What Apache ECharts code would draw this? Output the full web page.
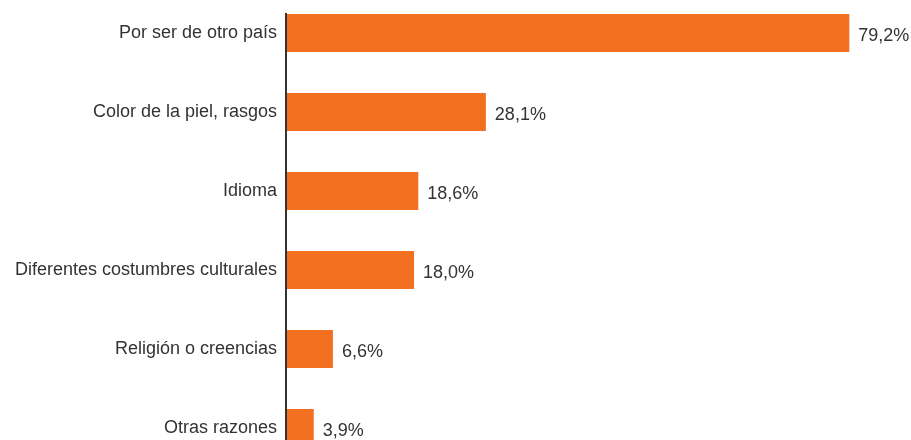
<!DOCTYPE html>
<html>
<head>
<meta charset="utf-8">
<script src="https://cdn.jsdelivr.net/npm/echarts@6/dist/echarts.min.js"></script>
<style>
  html, body { margin: 0; padding: 0; background: #fff; }
  #chart { width: 911px; height: 440px; }
</style>
</head>
<body>
<div id="chart"></div>
<script>
// motivos de discriminación (%)
var categories = [
  'Por ser de otro país',
  'Color de la piel, rasgos',
  'Idioma',
  'Diferentes costumbres culturales',
  'Religión o creencias',
  'Otras razones'
]
var values = [79.2, 28.1, 18.6, 18.0, 6.6, 3.9]

var chart = echarts.init(document.getElementById('chart'))
var font = 'Liberation Sans, Arial, Helvetica, sans-serif'

chart.setOption({
  animation: false,
  grid: {
    left: 286,
    right: 56,
    top: -6.5,
    height: 474,
    outerBoundsMode: 'none',
    containLabel: false
  },
  xAxis: {
    type: 'value',
    min: 0,
    max: 80,
    show: false
  },
  yAxis: {
    type: 'category',
    inverse: true,
    data: categories,
    axisLine: { show: false },
    axisTick: { show: false },
    axisLabel: {
      margin: 9,
      color: '#333',
      fontFamily: font,
      fontSize: 18,
      padding: [0, 0, 9, 0]
    }
  },
  series: [
    {
      type: 'bar',
      data: values,
      barWidth: 38,
      itemStyle: { color: '#F37021' },
      label: {
        show: true,
        position: 'right',
        distance: 9,
        offset: [0, 3],
        color: '#333',
        fontFamily: font,
        fontSize: 18,
        formatter: function (p) {
          return p.value.toFixed(1).replace('.', ',') + '%'
        }
      }
    }
  ]
})

// eje vertical: empieza en el borde superior de la primera barra
var x0 = chart.convertToPixel({ xAxisIndex: 0 }, 0)
var yTop = chart.convertToPixel({ yAxisIndex: 0 }, categories[0]) - 20
chart.setOption({
  graphic: [{
    type: 'line',
    shape: { x1: x0, y1: yTop, x2: x0, y2: 440 },
    style: { stroke: '#333', lineWidth: 2 },
    z: 10
  }]
})
</script>
</body>
</html>
